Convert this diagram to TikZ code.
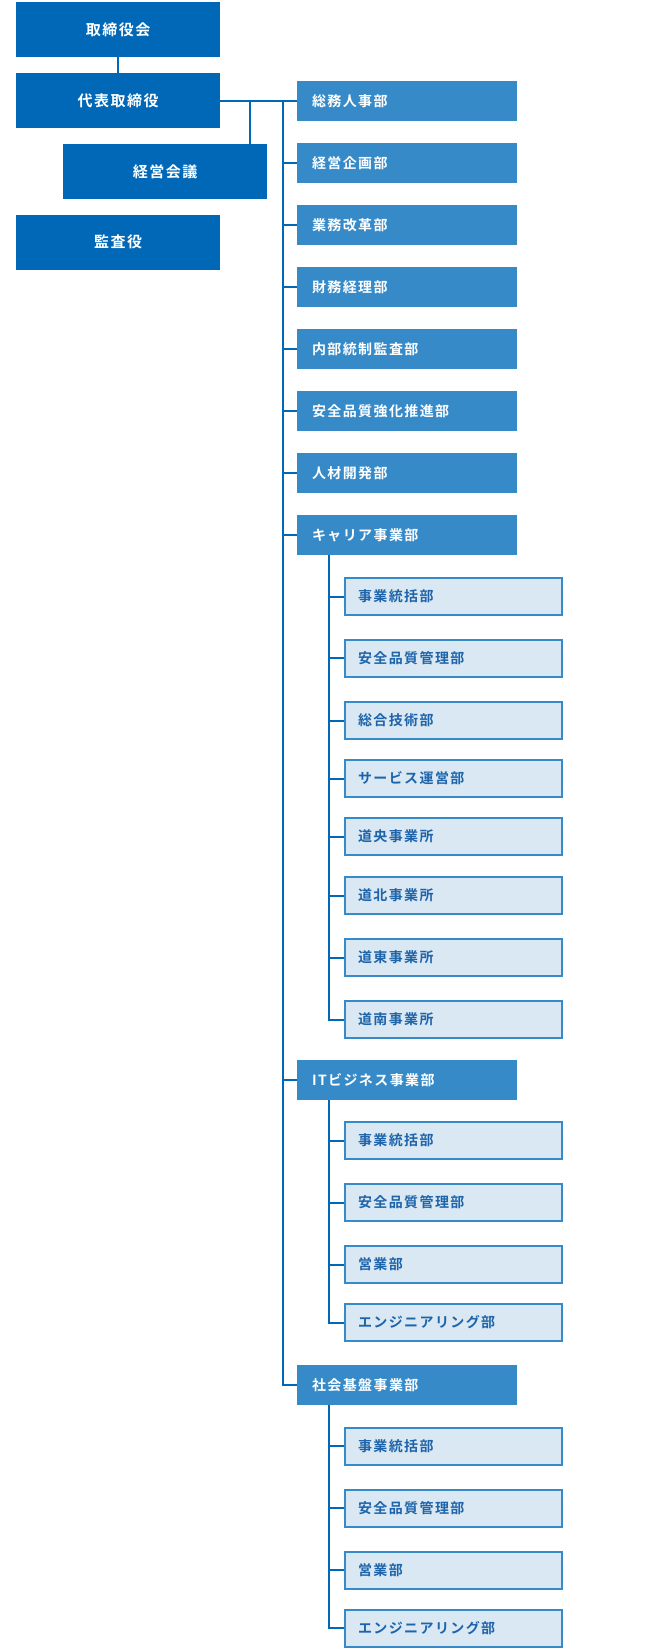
\documentclass[tikz,border=0pt]{standalone}
\usepackage{fontspec}
\usepackage{tikz}
\newfontfamily\jpfont{Noto Sans CJK JP}[BoldFont={Noto Sans CJK JP Bold}, LetterSpace=10]
\definecolor{orgnavy}{RGB}{0,104,183}
\definecolor{orgblue}{RGB}{54,138,200}
\definecolor{orgpale}{RGB}{217,232,243}
\definecolor{orgtext}{RGB}{30,100,170}
\usetikzlibrary{positioning, calc}
\tikzset{
    topbox/.style={fill=orgnavy, text=white, minimum width=204, minimum height=55, inner sep=0,
        font=\jpfont\bfseries\fontsize{15}{17}\selectfont},
    deptbox/.style={fill=orgblue, text=white, text width=190, inner xsep=15, inner ysep=0,
        minimum height=40, align=left, font=\jpfont\bfseries\fontsize{14}{16}\selectfont},
    subbox/.style={draw=orgblue, line width=2, fill=orgpale, text=orgtext, text width=191,
        inner xsep=13, inner ysep=0, minimum height=37, align=left,
        font=\jpfont\bfseries\fontsize{14}{16}\selectfont},
    orgline/.style={draw=orgnavy, line width=2}
}

\begin{document}
\begin{tikzpicture}[x=1pt, y=-1pt]
  \useasboundingbox (0,0) rectangle (660,1649);
  % top management
  \node[topbox] (board) at (118,29.5) {取締役会};
  \node[topbox] (ceo) at (118,100.5) {代表取締役};
  \node[topbox] (mtg) at (165,171.5) {経営会議};
  \node[topbox] (audit) at (118,242) {監査役};

  % departments
  \node[deptbox] (somu) at (407,101) {総務人事部};
  \node[deptbox] (kikaku) at (407,163) {経営企画部};
  \node[deptbox] (kaikaku) at (407,225) {業務改革部};
  \node[deptbox] (zaimu) at (407,287) {財務経理部};
  \node[deptbox] (kansa) at (407,349) {内部統制監査部};
  \node[deptbox] (anzen) at (407,411) {安全品質強化推進部};
  \node[deptbox] (jinzai) at (407,473) {人材開発部};
  \node[deptbox] (career) at (407,535) {キャリア事業部};
  \node[deptbox] (itbiz) at (407,1080) {ITビジネス事業部};
  \node[deptbox] (shakai) at (407,1385) {社会基盤事業部};

  % career divisions
  \node[subbox] (ca1) at (453.5,596.5) {事業統括部};
  \node[subbox] (ca2) at (453.5,658) {安全品質管理部};
  \node[subbox] (ca3) at (453.5,720.5) {総合技術部};
  \node[subbox] (ca4) at (453.5,778.5) {サービス運営部};
  \node[subbox] (ca5) at (453.5,836.5) {道央事業所};
  \node[subbox] (ca6) at (453.5,895.5) {道北事業所};
  \node[subbox] (ca7) at (453.5,957.5) {道東事業所};
  \node[subbox] (ca8) at (453.5,1019.5) {道南事業所};

  % IT business divisions
  \node[subbox] (it1) at (453.5,1140.5) {事業統括部};
  \node[subbox] (it2) at (453.5,1202.5) {安全品質管理部};
  \node[subbox] (it3) at (453.5,1264.5) {営業部};
  \node[subbox] (it4) at (453.5,1322.5) {エンジニアリング部};

  % infrastructure divisions
  \node[subbox] (sk1) at (453.5,1446) {事業統括部};
  \node[subbox] (sk2) at (453.5,1508) {安全品質管理部};
  \node[subbox] (sk3) at (453.5,1570) {営業部};
  \node[subbox] (sk4) at (453.5,1628) {エンジニアリング部};

  % connectors
  \draw[orgline] (board.south) -- (ceo.north);
  \draw[orgline] (ceo.east) -- (ceo.east -| somu.west);
  \coordinate (mtgjoint) at (250,101);
  \draw[orgline] (mtgjoint) -- (mtgjoint |- mtg.north);
  \coordinate (spine) at (283,101);
  \foreach \d in {somu,kikaku,kaikaku,zaimu,kansa,anzen,jinzai,career,itbiz,shakai}
    \draw[orgline] (spine) |- (\d.west);
  \foreach \s in {ca1,ca2,ca3,ca4,ca5,ca6,ca7,ca8}
    \draw[orgline] ([xshift=32]career.south west) |- (\s.west);
  \foreach \s in {it1,it2,it3,it4}
    \draw[orgline] ([xshift=32]itbiz.south west) |- (\s.west);
  \foreach \s in {sk1,sk2,sk3,sk4}
    \draw[orgline] ([xshift=32]shakai.south west) |- (\s.west);
\end{tikzpicture}
\end{document}
